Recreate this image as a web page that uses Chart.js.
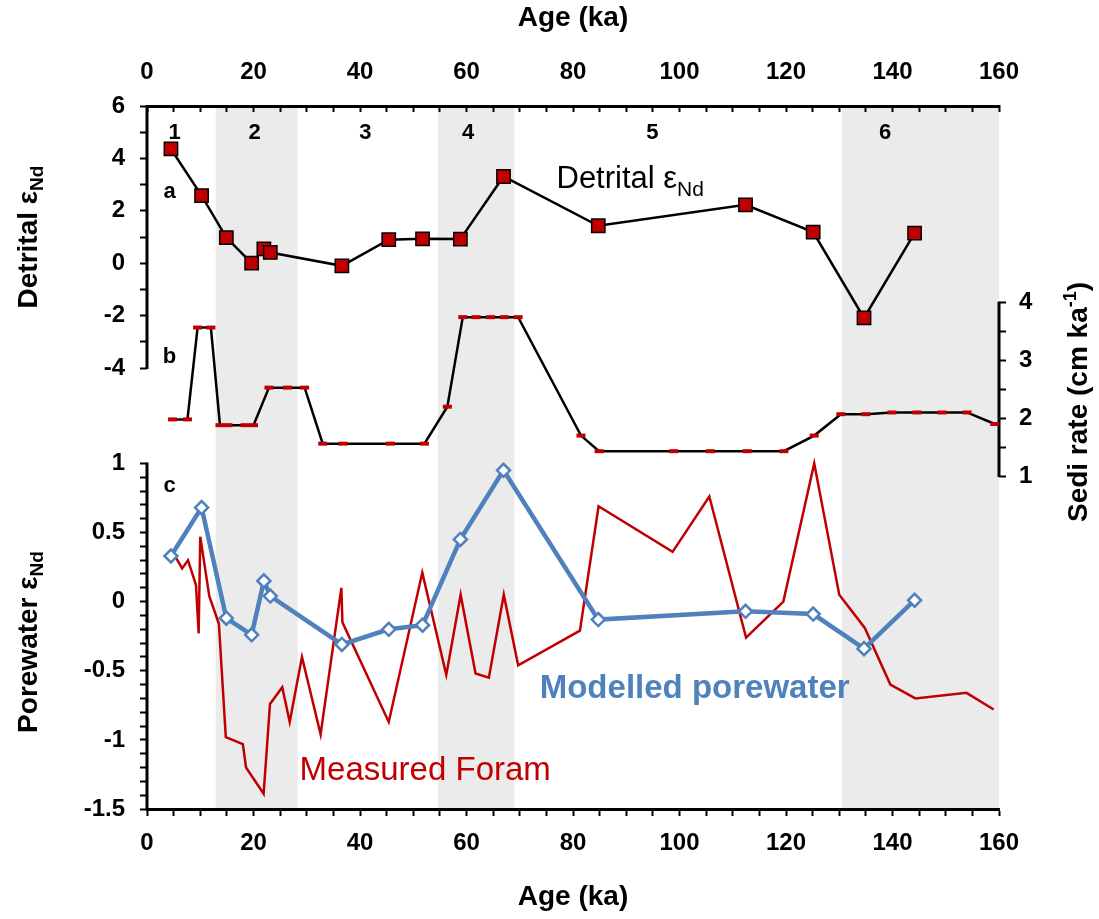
<!DOCTYPE html>
<html>
<head>
<meta charset="utf-8">
<script src="https://cdn.jsdelivr.net/npm/chart.js@4.4.0/dist/chart.umd.min.js"></script>
<style>
  html, body { margin: 0; padding: 0; background: #fff; }
  #chart { display: block; }
</style>
</head>
<body>
<canvas id="chart" width="1099" height="919"></canvas>
<script>
// Idades das amostras (ka) - detrital e porewater modelado usam as mesmas
const sampleAge = [4.5, 10.25, 14.9, 19.65, 21.95, 23.15, 36.6, 45.4, 51.75, 58.85, 66.95, 84.75, 112.4, 125.1, 134.65, 144.15];
const detritalNd = [4.36, 2.58, 0.98, 0.0, 0.55, 0.41, -0.1, 0.9, 0.93, 0.92, 3.31, 1.43, 2.23, 1.19, -2.09, 1.15];
const modelledNd = [0.33, 0.68, -0.12, -0.24, 0.15, 0.04, -0.31, -0.20, -0.17, 0.45, 0.95, -0.13, -0.07, -0.09, -0.34, 0.01];

// Foraminiferos medidos
const foramAge = [5.4, 6.6, 7.7, 9.2, 9.7, 10.0, 11.7, 13.5, 14.8, 18.0, 18.6, 21.9, 23.1, 25.4, 26.8, 29.1, 32.6, 36.5, 36.7, 45.4,
                  51.7, 56.2, 58.9, 61.7, 64.2, 67.0, 69.7, 81.3, 84.8, 98.7, 105.6, 112.5, 119.5, 125.3, 130.0, 134.8, 139.6, 144.3, 153.9, 159.0];
const foramNd = [0.32, 0.24, 0.30, 0.12, -0.23, 0.47, 0.04, -0.16, -0.98, -1.03, -1.20, -1.39, -0.74, -0.62, -0.87, -0.40, -0.96, 0.10, -0.15, -0.87,
                 0.21, -0.53, 0.05, -0.52, -0.55, 0.05, -0.46, -0.21, 0.69, 0.36, 0.76, -0.26, 0.0, 1.00, 0.05, -0.19, -0.60, -0.70, -0.66, -0.78];

// Taxa de sedimentacao (cm/ka)
const sediAge = [4.8, 7.6, 9.5, 12.0, 13.7, 15.2, 18.4, 20.0, 22.9, 26.4, 29.6, 33.0, 36.8, 45.7, 52.1, 56.4, 59.3, 61.8, 64.5, 67.1, 69.7,
                 81.5, 84.9, 98.9, 105.8, 112.7, 119.6, 125.3, 130.3, 135.0, 139.9, 144.6, 149.3, 154.0, 159.2];
const sediRate = [1.98, 1.98, 3.57, 3.57, 1.88, 1.88, 1.88, 1.88, 2.53, 2.53, 2.53, 1.56, 1.56, 1.56, 1.56, 2.20, 3.75, 3.75, 3.75, 3.75, 3.75,
                  1.70, 1.43, 1.43, 1.43, 1.43, 1.43, 1.70, 2.07, 2.07, 2.10, 2.10, 2.10, 2.10, 1.90];

// Estagios isotopicos (faixas cinzas) e rotulos
const bandStart = [12.9, 54.6, 130.5];
const bandEnd = [28.3, 69.0, 160];
const stageLabels = ['1', '2', '3', '4', '5', '6'];
const stageAge = [5.2, 20.2, 41.0, 60.3, 94.9, 138.6];

// Rotulos dos eixos
const ageTicks = [0, 20, 40, 60, 80, 100, 120, 140, 160];
const detritalTicks = [-4, -2, 0, 2, 4, 6];
const poreTicks = [-1.5, -1, -0.5, 0, 0.5, 1];
const sediTicks = [1, 2, 3, 4];

const RED = '#c00000';
const BLUE = '#4f81bd';
const FONT = "'Liberation Sans', Arial, sans-serif";

const toPoints = (xs, ys) => xs.map((x, i) => ({ x, y: ys[i] }));

// Marcas menores entre o primeiro e o ultimo rotulo
const minorTicks = (labels, step) => {
    const out = [];
    const n = Math.round((labels[labels.length - 1] - labels[0]) / step);
    for (let i = 0; i <= n; i++) out.push(+(labels[0] + i * step).toFixed(4));
    return out;
};

const tickFont = { family: FONT, size: 24, weight: 'bold' };

const makeAxis = (position, min, max, labels, step, size, padding, extra) => ({
    type: 'linear',
    position,
    min,
    max,
    grid: { drawOnChartArea: false, drawTicks: true, tickLength: 7, tickColor: '#000', tickWidth: 2 },
    border: { display: false },
    ticks: {
        color: '#000',
        font: tickFont,
        autoSkip: false,
        maxRotation: 0,
        padding,
        callback: (v) => labels.some(l => Math.abs(l - v) < 1e-6) ? String(v) : ''
    },
    afterBuildTicks: (scale) => { scale.ticks = minorTicks(labels, step).map(value => ({ value })); },
    afterFit: (scale) => {
        if (position === 'top' || position === 'bottom') scale.height = size;
        else scale.width = size;
    },
    ...extra
});

const axisTitle = (text, padding) => ({
    display: true,
    text,
    color: '#000',
    font: { family: FONT, size: 28, weight: 'bold' },
    padding
});

// Desenha pedacos de texto em sequencia (subscrito / sobrescrito via dy)
const drawParts = (ctx, parts, x, y, align, angle) => {
    ctx.save();
    ctx.translate(x, y);
    ctx.rotate(angle || 0);
    ctx.textAlign = 'left';
    ctx.textBaseline = 'alphabetic';
    let total = 0;
    parts.forEach(p => { ctx.font = p.font; p.w = ctx.measureText(p.text).width; total += p.w; });
    let cx = align === 'center' ? -total / 2 : 0;
    parts.forEach(p => {
        ctx.font = p.font;
        ctx.fillStyle = p.color || '#000';
        ctx.fillText(p.text, cx, p.dy || 0);
        cx += p.w;
    });
    ctx.restore();
};

const sketchPlugin = {
    id: 'sketch',
    // o eixo do porewater fica com largura zero no layout; abre a area de recorte dos rotulos
    afterLayout(chart) {
        chart.scales.yP.left = 0;
    },
    beforeDraw(chart) {
        const { ctx, chartArea: a, scales } = chart;
        ctx.save();
        // faixas cinzas
        ctx.fillStyle = '#ebebeb';
        bandStart.forEach((s, i) => {
            const x0 = scales.x.getPixelForValue(s);
            const x1 = scales.x.getPixelForValue(bandEnd[i]);
            ctx.fillRect(x0, a.top, x1 - x0, a.bottom - a.top);
        });
        // segmentos dos eixos verticais
        ctx.strokeStyle = '#000';
        ctx.lineWidth = 3;
        const seg = (px, scale, labels) => {
            const y0 = scale.getPixelForValue(labels[0]);
            const y1 = scale.getPixelForValue(labels[labels.length - 1]);
            ctx.beginPath();
            ctx.moveTo(px, y0 + 1);
            ctx.lineTo(px, y1 - 1);
            ctx.stroke();
        };
        seg(a.left, scales.yD, detritalTicks);
        seg(a.left, scales.yP, poreTicks);
        seg(a.right, scales.yS, sediTicks);
        ctx.restore();
    },
    afterDatasetsDraw(chart) {
        const { ctx, scales } = chart;
        const x = scales.x, yD = scales.yD, yP = scales.yP;
        const bold = (s) => `bold ${s}px ${FONT}`;
        const reg = (s) => `${s}px ${FONT}`;

        // titulos dos eixos verticais
        drawParts(ctx, [{ text: 'Detrital ε', font: bold(28) }, { text: 'Nd', font: bold(19), dy: 6 }], 37, 237, 'center', -Math.PI / 2);
        drawParts(ctx, [{ text: 'Porewater ε', font: bold(28) }, { text: 'Nd', font: bold(19), dy: 6 }], 37, 642, 'center', -Math.PI / 2);
        drawParts(ctx, [{ text: 'Sedi rate (cm ka', font: bold(28) }, { text: '-1', font: bold(18), dy: -11 }, { text: ')', font: bold(28) }],
            1087, 402, 'center', -Math.PI / 2);

        // estagios
        stageLabels.forEach((t, i) => {
            drawParts(ctx, [{ text: t, font: bold(22) }], x.getPixelForValue(stageAge[i]), yD.getPixelForValue(4.74), 'center');
        });

        // letras dos paineis
        drawParts(ctx, [{ text: 'a', font: bold(22) }], x.getPixelForValue(4.23), yD.getPixelForValue(2.47), 'center');
        drawParts(ctx, [{ text: 'b', font: bold(22) }], x.getPixelForValue(4.23), yD.getPixelForValue(-3.79), 'center');
        drawParts(ctx, [{ text: 'c', font: bold(22) }], x.getPixelForValue(4.23), yP.getPixelForValue(0.79), 'center');

        // legendas no grafico
        drawParts(ctx, [{ text: 'Detrital ε', font: reg(31) }, { text: 'Nd', font: reg(21), dy: 8 }],
            x.getPixelForValue(76.9), yD.getPixelForValue(2.87), 'left');
        drawParts(ctx, [{ text: 'Modelled porewater', font: bold(33), color: BLUE }],
            x.getPixelForValue(73.75), yP.getPixelForValue(-0.70), 'left');
        drawParts(ctx, [{ text: 'Measured Foram', font: reg(33), color: RED }],
            x.getPixelForValue(28.65), yP.getPixelForValue(-1.29), 'left');
    }
};

new Chart(document.getElementById('chart').getContext('2d'), {
    type: 'scatter',
    data: {
        datasets: [
            {
                label: 'Modelled porewater',
                data: toPoints(sampleAge, modelledNd),
                xAxisID: 'x', yAxisID: 'yP',
                showLine: true,
                borderColor: BLUE,
                borderWidth: 4.5,
                pointStyle: 'rectRot',
                pointRadius: 6.5,
                pointBackgroundColor: '#fff',
                pointBorderColor: BLUE,
                pointBorderWidth: 2.5
            },
            {
                label: 'Measured Foram',
                data: toPoints(foramAge, foramNd),
                xAxisID: 'x', yAxisID: 'yP',
                showLine: true,
                borderColor: RED,
                borderWidth: 2.5,
                pointRadius: 0
            },
            {
                label: 'Detrital',
                data: toPoints(sampleAge, detritalNd),
                xAxisID: 'x', yAxisID: 'yD',
                showLine: true,
                borderColor: '#000',
                borderWidth: 2.5,
                pointStyle: 'rect',
                pointRadius: 9.4,
                pointBackgroundColor: RED,
                pointBorderColor: '#000',
                pointBorderWidth: 1.5
            },
            {
                label: 'Sedi rate',
                data: toPoints(sediAge, sediRate),
                xAxisID: 'x', yAxisID: 'yS',
                showLine: true,
                borderColor: '#000',
                borderWidth: 2.5,
                pointStyle: 'line',
                pointRadius: 4.5,
                pointBorderColor: RED,
                pointBorderWidth: 4
            }
        ]
    },
    options: {
        responsive: false,
        animation: false,
        events: [],
        layout: { padding: 0 },
        plugins: { legend: { display: false }, tooltip: { enabled: false } },
        scales: {
            x: makeAxis('bottom', 0, 160, ageTicks, 5, 110, 13, {
                border: { display: true, color: '#000', width: 3 },
                title: axisTitle('Age (ka)', { bottom: 5 })
            }),
            xTop: makeAxis('top', 0, 160, ageTicks, 5, 106, 25, {
                grid: { drawOnChartArea: false, drawTicks: true, tickLength: -6, tickColor: '#000', tickWidth: 2 },
                border: { display: true, color: '#000', width: 3 },
                title: axisTitle('Age (ka)', { top: 1 })
            }),
            yD: makeAxis('left', -20.83, 6, detritalTicks, 1, 147, 15, { weight: 1 }),
            yP: makeAxis('left', -1.5, 3.585, poreTicks, 0.1, 0, 15, { weight: 0 }),
            yS: makeAxis('right', -4.764, 7.405, sediTicks, 0.5, 100, 13)
        }
    },
    plugins: [sketchPlugin]
});
</script>
</body>
</html>
